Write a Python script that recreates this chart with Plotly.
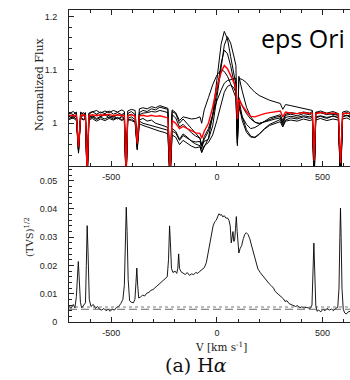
import plotly.graph_objects as go

# ---------------- data ----------------
V = [-700, -680, -665, -655, -645, -630, -622, -614, -606, -590, -570, -550, -530, -510, -490,
     -470, -450, -438, -430, -422, -405, -387, -377, -367, -350, -330, -310, -290, -270, -250,
     -232, -222, -212, -195, -177, -160, -140, -120, -100, -80, -72, -60, -40, -20, 0, 20, 35,
     50, 65, 80, 90, 97, 104, 120, 140, 160, 180, 200, 225, 250, 275, 300, 312, 325, 350, 380,
     410, 440, 452, 460, 468, 490, 520, 550, 575, 585, 595, 615, 630]

FLUX_A = [1.013, 1.009, 1.014, 0.948, 1.011, 1.015, 1.008, 0.89, 1.01, 1.014, 1.009, 1.013, 1.016, 1.01, 1.013,
          1.008, 1.012, 1.01, 0.89, 1.009, 1.012, 1.007, 0.955, 1.006, 1.009, 1.004, 1.006, 1.0, 0.998, 0.995,
          0.992, 0.89, 0.99, 0.985, 0.97, 0.98, 0.974, 0.966, 0.961, 0.958, 0.946, 0.957, 0.972, 1.015, 1.085, 1.148, 1.172,
          1.158, 1.125, 1.092, 1.072, 0.962, 1.045, 1.012, 0.988, 0.976, 0.973, 0.979, 0.99, 0.998, 1.003, 1.007, 0.996, 1.006, 1.01, 1.008,
          1.012, 1.009, 1.011, 0.89, 1.01, 1.013, 1.009, 1.014, 1.01, 0.89, 1.012, 1.015, 1.011]
FLUX_B = [1.02, 1.016, 1.021, 0.952, 1.017, 1.02, 1.015, 0.895, 1.019, 1.022, 1.017, 1.021, 1.018, 1.023, 1.017,
          1.02, 1.016, 1.019, 0.893, 1.018, 1.022, 1.016, 0.96, 1.02, 1.024, 1.022, 1.027, 1.025, 1.03, 1.028,
          1.026, 0.9, 1.022, 1.018, 1.0, 1.008, 0.998, 0.99, 0.981, 0.972, 0.958, 0.966, 0.97, 0.995, 1.048, 1.108, 1.146,
          1.162, 1.15, 1.126, 1.108, 0.975, 1.088, 1.06, 1.03, 1.012, 1.002, 0.999, 1.003, 1.007, 1.011, 1.013, 1.002, 1.015, 1.017, 1.014,
          1.018, 1.016, 1.019, 0.9, 1.017, 1.02, 1.016, 1.019, 1.015, 0.9, 1.018, 1.02, 1.017]
FLUX_C = [1.007, 1.01, 1.005, 0.944, 1.009, 1.006, 1.01, 0.885, 1.006, 1.009, 1.004, 1.008, 1.005, 1.009, 1.006,
          1.01, 1.005, 1.008, 0.885, 1.005, 1.008, 1.003, 0.952, 1.004, 1.0, 0.998, 0.996, 0.993, 0.991, 0.989,
          0.987, 0.885, 0.985, 0.982, 0.968, 0.977, 0.972, 0.967, 0.965, 0.966, 0.952, 0.97, 0.985, 1.012, 1.06, 1.112, 1.137,
          1.13, 1.108, 1.078, 1.058, 0.958, 1.035, 1.005, 0.983, 0.974, 0.974, 0.98, 0.989, 0.996, 1.0, 1.003, 0.993, 1.004, 1.006, 1.004,
          1.008, 1.005, 1.007, 0.885, 1.006, 1.009, 1.005, 1.008, 1.006, 0.885, 1.008, 1.01, 1.007]
FLUX_D = [1.018, 1.022, 1.017, 0.955, 1.021, 1.016, 1.02, 0.9, 1.017, 1.021, 1.024, 1.019, 1.023, 1.02, 1.024,
          1.021, 1.025, 1.022, 0.9, 1.023, 1.026, 1.024, 0.962, 1.027, 1.029, 1.027, 1.031, 1.029, 1.033, 1.031,
          1.028, 0.9, 1.025, 1.02, 1.005, 1.012, 1.01, 1.008, 1.009, 1.012, 1.0, 1.025, 1.048, 1.072, 1.09, 1.1, 1.097,
          1.088, 1.074, 1.058, 1.048, 0.963, 1.03, 1.012, 0.998, 0.99, 0.992, 0.997, 1.004, 1.01, 1.013, 1.016, 1.005, 1.017, 1.02, 1.018,
          1.021, 1.019, 1.022, 0.9, 1.02, 1.023, 1.019, 1.022, 1.018, 0.9, 1.021, 1.023, 1.02]
FLUX_E = [1.015, 1.012, 1.016, 0.95, 1.013, 1.017, 1.012, 0.892, 1.015, 1.011, 1.016, 1.013, 1.017, 1.014, 1.011,
          1.016, 1.013, 1.016, 0.89, 1.014, 1.017, 1.013, 0.958, 1.016, 1.019, 1.02, 1.022, 1.021, 1.024, 1.022,
          1.02, 0.895, 1.016, 1.01, 0.993, 0.998, 0.99, 0.982, 0.976, 0.972, 0.958, 0.975, 0.99, 1.015, 1.042, 1.062, 1.075,
          1.08, 1.082, 1.083, 1.084, 0.985, 1.084, 1.082, 1.076, 1.066, 1.058, 1.052, 1.047, 1.043, 1.04, 1.037, 1.026, 1.035, 1.033, 1.03,
          1.028, 1.025, 1.024, 0.905, 1.021, 1.02, 1.018, 1.017, 1.015, 0.9, 1.016, 1.014, 1.015]
FLUX_F = [1.009, 1.012, 1.008, 0.946, 1.011, 1.007, 1.011, 0.888, 1.008, 1.012, 1.007, 1.011, 1.008, 1.012, 1.008,
          1.011, 1.007, 1.01, 0.888, 1.008, 1.005, 1.002, 0.95, 0.999, 0.996, 0.993, 0.99, 0.988, 0.985, 0.983,
          0.98, 0.888, 0.978, 0.974, 0.96, 0.968, 0.962, 0.957, 0.954, 0.956, 0.945, 0.958, 0.964, 0.978, 1.005, 1.038, 1.058,
          1.069, 1.072, 1.066, 1.058, 0.97, 1.048, 1.032, 1.018, 1.008, 1.002, 1.0, 1.002, 1.005, 1.008, 1.01, 0.999, 1.011, 1.013, 1.011,
          1.014, 1.012, 1.014, 0.888, 1.012, 1.014, 1.011, 1.013, 1.011, 0.888, 1.012, 1.015, 1.012]
FLUX_MEAN = [1.015, 1.014, 1.015, 0.955, 1.015, 1.016, 1.014, 0.905, 1.014, 1.016, 1.014, 1.016, 1.015, 1.017, 1.014,
             1.016, 1.014, 1.015, 0.91, 1.014, 1.016, 1.013, 0.962, 1.014, 1.015, 1.013, 1.015, 1.013, 1.014, 1.012,
             1.01, 0.91, 1.005, 1.0, 0.99, 0.994, 0.99, 0.986, 0.982, 0.981, 0.972, 0.985, 1.0, 1.03, 1.068, 1.095, 1.108,
             1.102, 1.09, 1.077, 1.066, 1.008, 1.045, 1.033, 1.022, 1.013, 1.012, 1.015, 1.018, 1.02, 1.022, 1.023, 1.012, 1.021, 1.019, 1.018,
             1.02, 1.018, 1.019, 0.93, 1.018, 1.02, 1.018, 1.019, 1.017, 0.925, 1.018, 1.019, 1.018]

TVS_V = [-700, -690, -680, -672, -665, -660, -656, -652, -646, -640, -630, -622, -618, -614, -610, -604, -596,
         -585, -575, -565, -555, -545, -535, -525, -515, -505, -495, -485, -475, -465, -455, -445, -438, -433,
         -429, -425, -420, -413, -405, -395, -388, -383, -379, -375, -370, -362, -352, -342, -332, -322, -312,
         -302, -292, -282, -272, -262, -252, -242, -235, -229, -224, -220, -215, -208, -198, -190, -185, -181,
         -177, -170, -160, -150, -140, -130, -120, -110, -100, -90, -80, -70, -60, -50, -42, -35, -26, -18, -10,
         -3, 5, 10, 15, 22, 28, 35, 42, 52, 58, 63, 68, 72, 76, 80, 84, 88, 92, 96, 100, 104, 110, 117, 125, 132,
         139, 147, 155, 165, 172, 179, 186, 194, 205, 215, 228, 238, 248, 258, 268, 276, 285, 295, 305, 315, 322,
         332, 342, 352, 362, 372, 382, 392, 402, 412, 422, 432, 442, 450, 455, 459, 463, 468, 474, 482, 492, 502,
         512, 522, 532, 542, 552, 562, 572, 578, 582, 585, 588, 592, 598, 605, 612, 620, 630]
TVS = [0.0055, 0.0048, 0.0062, 0.005, 0.009, 0.018, 0.0214, 0.016, 0.007, 0.005, 0.0058, 0.0068, 0.02, 0.0341,
       0.025, 0.008, 0.0055, 0.0062, 0.0048, 0.0055, 0.0045, 0.0042, 0.0048, 0.004, 0.0045, 0.0038, 0.0046, 0.0042,
       0.0052, 0.0055, 0.0065, 0.008, 0.013, 0.03, 0.0406, 0.032, 0.015, 0.0075, 0.007, 0.0068, 0.008, 0.014, 0.0191,
       0.013, 0.0085, 0.0088, 0.0095, 0.0092, 0.0102, 0.0105, 0.0112, 0.0115, 0.0122, 0.0128, 0.0135, 0.014, 0.0148,
       0.0155, 0.016, 0.022, 0.034, 0.028, 0.019, 0.0175, 0.018, 0.0172, 0.019, 0.0241, 0.019, 0.0178, 0.0172, 0.0168,
       0.0175, 0.0165, 0.017, 0.0168, 0.0175, 0.0172, 0.018, 0.0185, 0.0192, 0.021, 0.0244, 0.028, 0.0314, 0.034,
       0.0355, 0.036, 0.0375, 0.0383, 0.0378, 0.038, 0.0372, 0.0376, 0.0368, 0.0367, 0.0358, 0.034, 0.028, 0.031,
       0.032, 0.0285, 0.029, 0.033, 0.0373, 0.032, 0.027, 0.0244, 0.026, 0.027, 0.0295, 0.031, 0.0316, 0.031, 0.0296,
       0.027, 0.025, 0.0229, 0.021, 0.0188, 0.0175, 0.0165, 0.0155, 0.0145, 0.0135, 0.0128, 0.012, 0.0108, 0.0102,
       0.0095, 0.0088, 0.0082, 0.0073, 0.0075, 0.0065, 0.0062, 0.0058, 0.0055, 0.0058, 0.005, 0.0054, 0.0049, 0.0052,
       0.005, 0.0048, 0.006, 0.018, 0.0279, 0.018, 0.006, 0.0038, 0.0042, 0.0036, 0.0045, 0.004, 0.0048, 0.0042,
       0.0046, 0.004, 0.0048, 0.0052, 0.012, 0.03, 0.0403, 0.03, 0.012, 0.0045, 0.0032, 0.0028, 0.0035, 0.0038]

TVS_DOTTED_LEVEL = 0.0053
TVS_DASHED_LEVEL = 0.0045

X_TICKS = [-500, 0, 500]
X_TICK_TEXT = ["-500", "0", "500"]
FLUX_TICKS = [1.0, 1.1, 1.2]
FLUX_TICK_TEXT = ["1", "1.1", "1.2"]
TVS_TICKS = [0, 0.01, 0.02, 0.03, 0.04, 0.05]
TVS_TICK_TEXT = ["0", "0.01", "0.02", "0.03", "0.04", "0.05"]

# ---------------- figure ----------------
W, H = 350, 380
ML, MR, MT, MB = 69, 0, 10, 58
PW, PH = W - ML - MR, H - MT - MB


def px_x(x):
    return (x - ML) / PW


def px_y(y):
    return (H - MB - y) / PH


fig = go.Figure()
for f in [FLUX_A, FLUX_B, FLUX_C, FLUX_D, FLUX_E, FLUX_F]:
    fig.add_trace(go.Scatter(x=V, y=f, mode="lines", xaxis="x2", yaxis="y2",
                             line=dict(color="#000000", width=1.0), showlegend=False))
fig.add_trace(go.Scatter(x=V, y=FLUX_MEAN, mode="lines", xaxis="x2", yaxis="y2",
                         line=dict(color="#ff0000", width=1.4), showlegend=False))
fig.add_trace(go.Scatter(x=TVS_V, y=TVS, mode="lines", xaxis="x", yaxis="y",
                         line=dict(color="#000000", width=0.9), showlegend=False))

fig.add_hline(y=TVS_DOTTED_LEVEL, line=dict(color="#555555", width=0.8, dash="dot"), xref="x", yref="y")
fig.add_hline(y=TVS_DASHED_LEVEL, line=dict(color="#444444", width=0.8, dash="8px,4px"), xref="x", yref="y")

tickfont = dict(family="Liberation Sans, Arial, sans-serif", size=9, color="#222222")
common_x = dict(range=[-700, 630], showline=True, linecolor="#222222", linewidth=1,
                ticks="inside", ticklen=5, tickcolor="#222222", tickwidth=1,
                tickmode="array", tickvals=X_TICKS, ticktext=X_TICK_TEXT,
                minor=dict(ticks="inside", ticklen=3, tickcolor="#222222", dtick=100, tick0=0),
                showgrid=False, zeroline=False, tickfont=tickfont, ticklabelstandoff=2)

fig.update_layout(
    width=W, height=H, margin=dict(l=ML, r=MR, t=MT, b=MB),
    paper_bgcolor="white", plot_bgcolor="white",
    xaxis=dict(domain=[0, 1], anchor="y", mirror=False, **common_x),
    xaxis2=dict(domain=[0, 1], anchor="y2", mirror="allticks", **common_x),
    yaxis=dict(domain=[0, 0.5], anchor="x", range=[0, 0.0552], showline=True, linecolor="#222222",
               ticks="inside", ticklen=5, tickcolor="#222222", tickmode="array",
               tickvals=TVS_TICKS, ticktext=TVS_TICK_TEXT, ticklabelstandoff=9,
               minor=dict(ticks="inside", ticklen=3, tickcolor="#222222", dtick=0.002, tick0=0),
               showgrid=False, zeroline=False, tickfont=tickfont),
    yaxis2=dict(domain=[0.5, 1], anchor="x2", range=[0.92, 1.212], showline=True, linecolor="#222222",
                ticks="inside", ticklen=5, tickcolor="#222222", tickmode="array",
                tickvals=FLUX_TICKS, ticktext=FLUX_TICK_TEXT, ticklabelstandoff=9,
                minor=dict(ticks="inside", ticklen=3, tickcolor="#222222", dtick=0.02, tick0=0.9),
                showgrid=False, zeroline=False, tickfont=tickfont),
)

serif = "DejaVu Serif, serif"
fig.add_annotation(text="Normalized Flux", xref="paper", yref="paper", x=px_x(39), y=px_y(84),
                   textangle=-90, showarrow=False, font=dict(family=serif, size=11, color="#222222"),
                   xanchor="center", yanchor="middle")
fig.add_annotation(text="(TVS)<sup>1/2</sup>", xref="paper", yref="paper", x=px_x(29), y=px_y(237),
                   textangle=-90, showarrow=False, font=dict(family=serif, size=10, color="#222222"),
                   xanchor="center", yanchor="middle")
fig.add_annotation(text="V [km s<sup>-1</sup>]", xref="paper", yref="paper", x=px_x(221), y=px_y(346),
                   showarrow=False, font=dict(family=serif, size=10.5, color="#222222"),
                   xanchor="center", yanchor="middle")
fig.add_annotation(text="(a) H<i>α</i>", xref="paper", yref="paper", x=px_x(196), y=px_y(365),
                   showarrow=False, font=dict(family=serif, size=19, color="#111111"),
                   xanchor="center", yanchor="middle")
fig.add_annotation(text="eps Ori", xref="paper", yref="paper", x=px_x(259), y=px_y(38),
                   showarrow=False, font=dict(family="Open Sans, sans-serif", size=25, color="#000000"),
                   xanchor="left", yanchor="middle")

fig.write_html("out.html")
